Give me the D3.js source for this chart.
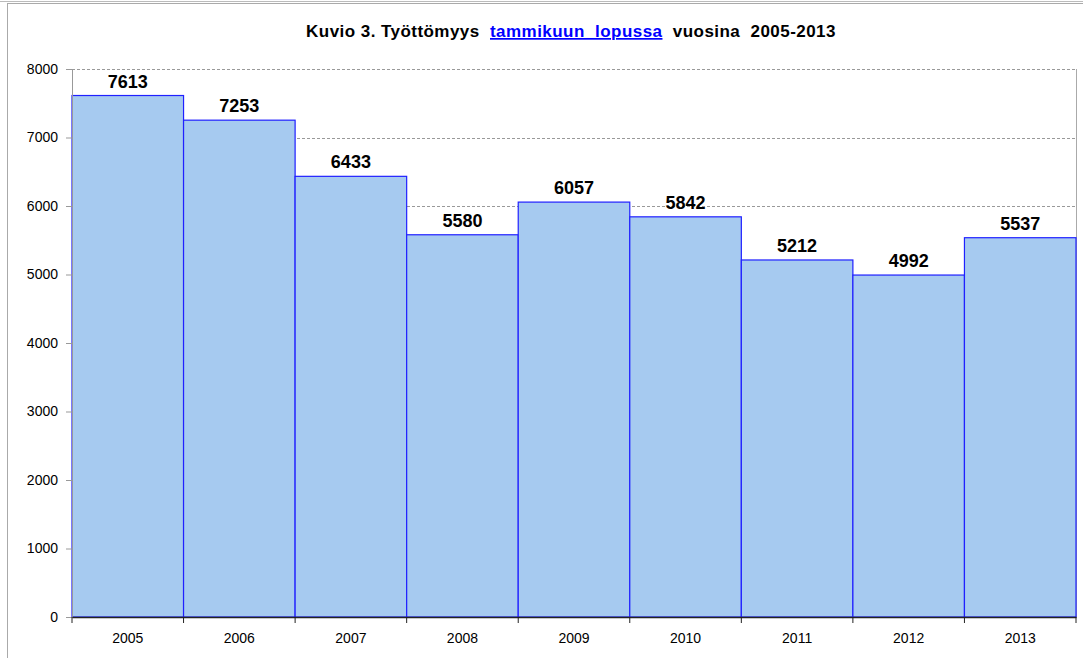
<!DOCTYPE html>
<html>
<head>
<meta charset="utf-8">
<script src="https://cdn.jsdelivr.net/npm/d3@7"></script>
<style>
  body { margin: 0; background: #fff; }
  svg { display: block; font-family: Arial, "Liberation Sans", sans-serif; }
</style>
</head>
<body>
<svg id="chart" width="1083" height="658"></svg>
<script>
const years = ["2005", "2006", "2007", "2008", "2009", "2010", "2011", "2012", "2013"];
const values = [7613, 7253, 6433, 5580, 6057, 5842, 5212, 4992, 5537];
const yTicks = [0, 1000, 2000, 3000, 4000, 5000, 6000, 7000, 8000];

const svg = d3.select("#chart");
const plotLeft = 72, plotRight = 1076, plotTop = 69, plotBottom = 617;

// outer frame
svg.append("line").attr("x1", 0).attr("x2", 1083).attr("y1", 1.5).attr("y2", 1.5).attr("stroke", "#bbb");
svg.append("line").attr("x1", 7).attr("x2", 1083).attr("y1", 3.5).attr("y2", 3.5).attr("stroke", "#aaa");
svg.append("line").attr("x1", 7.5).attr("x2", 7.5).attr("y1", 4).attr("y2", 658).attr("stroke", "#aaa");

const x = d3.scaleBand().domain(years).range([plotLeft, plotRight]).padding(0);
const y = d3.scaleLinear().domain([0, 8000]).range([plotBottom, plotTop]);

// gridlines
svg.append("g")
  .selectAll("line")
  .data(yTicks.filter(d => d > 0))
  .enter().append("line")
  .attr("x1", plotLeft).attr("x2", plotRight)
  .attr("y1", d => Math.round(y(d)) + 0.5)
  .attr("y2", d => Math.round(y(d)) + 0.5)
  .attr("stroke", "#999")
  .attr("stroke-dasharray", "3,2");

// right border of plot
svg.append("line").attr("x1", plotRight + 0.5).attr("x2", plotRight + 0.5)
  .attr("y1", plotTop).attr("y2", plotBottom).attr("stroke", "#aaa");

// bars
svg.append("g")
  .selectAll("rect")
  .data(values)
  .enter().append("rect")
  .attr("x", (d, i) => x(years[i]))
  .attr("y", d => y(d))
  .attr("width", x.bandwidth())
  .attr("height", d => plotBottom - y(d))
  .attr("fill", "#a6caf0")
  .attr("stroke", "#2020ff")
  .attr("stroke-width", 1.2);

// value labels
svg.append("g")
  .selectAll("text")
  .data(values)
  .enter().append("text")
  .attr("x", (d, i) => x(years[i]) + x.bandwidth() / 2)
  .attr("y", d => y(d) - 8)
  .attr("text-anchor", "middle")
  .attr("font-size", 18)
  .attr("font-weight", "bold")
  .attr("fill", "#000")
  .text(d => d);

// y axis
const yAxis = svg.append("g")
  .attr("transform", `translate(${plotLeft},0)`)
  .call(d3.axisLeft(y).tickValues(yTicks).tickSize(6).tickPadding(8).tickFormat(d3.format("d")));
yAxis.select(".domain").attr("stroke", "#999");
yAxis.selectAll(".tick line").attr("stroke", "#999");
yAxis.selectAll("text").attr("font-size", 14).attr("font-family", "Arial, 'Liberation Sans', sans-serif").attr("fill", "#000");

// x axis
const xAxis = svg.append("g")
  .attr("transform", `translate(0,${plotBottom})`)
  .call(d3.axisBottom(x).tickSize(0).tickPadding(16));
xAxis.select(".domain").attr("stroke", "#222").attr("stroke-width", 1.5);
xAxis.selectAll("text").attr("font-size", 14).attr("font-family", "Arial, 'Liberation Sans', sans-serif").attr("fill", "#000");

// tick marks at category boundaries
svg.append("g")
  .selectAll("line")
  .data(d3.range(years.length + 1))
  .enter().append("line")
  .attr("x1", i => plotLeft + i * x.bandwidth())
  .attr("x2", i => plotLeft + i * x.bandwidth())
  .attr("y1", plotBottom).attr("y2", plotBottom + 6)
  .attr("stroke", "#222");

// title
const title = svg.append("text")
  .attr("x", 571)
  .attr("y", 37)
  .attr("text-anchor", "middle")
  .attr("font-size", 17)
  .attr("font-weight", "bold")
  .attr("letter-spacing", 0.45)
  .attr("xml:space", "preserve")
  .style("white-space", "pre");
title.append("tspan").attr("fill", "#000").text("Kuvio 3. Työttömyys  ");
title.append("tspan").attr("fill", "#0000ff").attr("text-decoration", "underline").text("tammikuun  lopussa");
title.append("tspan").attr("fill", "#000").text("  vuosina  2005-2013");
</script>
</body>
</html>
